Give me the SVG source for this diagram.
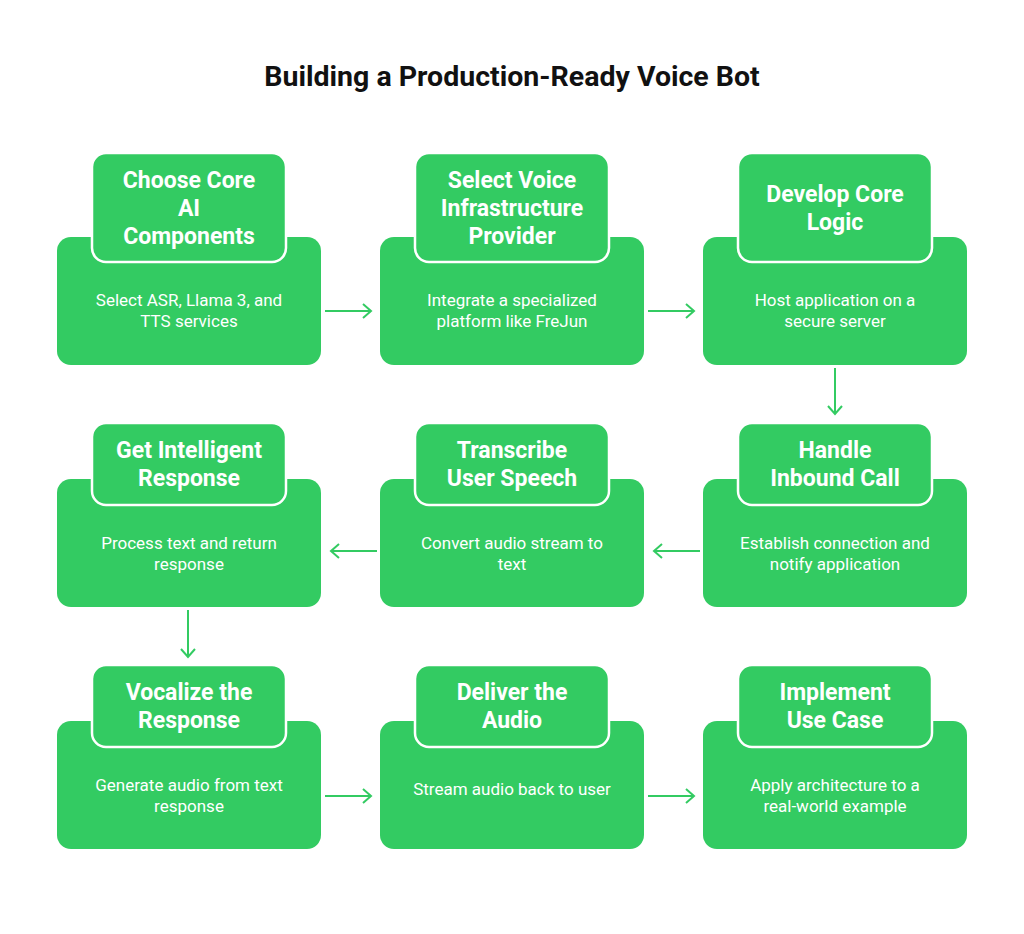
<svg xmlns="http://www.w3.org/2000/svg" width="1024" height="934" viewBox="0 0 1024 934">
<style>
.o{fill:#33cb62}
.h{fill:#33cb62;stroke:#fff;stroke-width:2.5}
.ht{font-family:Roboto,"Liberation Sans",sans-serif;font-weight:bold;font-size:23px;fill:#fff;text-anchor:middle}
.bt{font-family:Roboto,"Liberation Sans",sans-serif;font-size:17px;fill:#fff;text-anchor:middle}
.c{stroke:#33cb62;stroke-width:2;fill:none}
</style>
<rect width="1024" height="934" fill="#fff"/>
<text x="512" y="86" font-family="Roboto,'Liberation Sans',sans-serif" font-weight="bold" font-size="28.5" text-anchor="middle" fill="#111">Building a Production-Ready Voice Bot</text>
<g id="connectors" class="c">
<path d="M325 311H371M363 304L371 311L363 318"/>
<path d="M648 311H694M686 304L694 311L686 318"/>
<path d="M835 368V414M828 406L835 414L842 406"/>
<path d="M700 551H654M662 544L654 551L662 558"/>
<path d="M377 551H331M339 544L331 551L339 558"/>
<path d="M188 610V657M181 649L188 657L195 649"/>
<path d="M325 796H371M363 789L371 796L363 803"/>
<path d="M648 796H694M686 789L694 796L686 803"/>
</g>
<g id="n1"><rect class="o" x="57" y="237" width="264" height="128" rx="14"/><rect class="h" x="92" y="153" width="194" height="109" rx="14"/>
<text class="ht"><tspan x="189" y="188">Choose Core</tspan><tspan x="189" y="216">AI</tspan><tspan x="189" y="244">Components</tspan></text>
<text class="bt"><tspan x="189" y="306">Select ASR, Llama 3, and</tspan><tspan x="189" y="327">TTS services</tspan></text></g>
<g id="n2"><rect class="o" x="380" y="237" width="264" height="128" rx="14"/><rect class="h" x="415" y="153" width="194" height="109" rx="14"/>
<text class="ht"><tspan x="512" y="188">Select Voice</tspan><tspan x="512" y="216">Infrastructure</tspan><tspan x="512" y="244">Provider</tspan></text>
<text class="bt"><tspan x="512" y="306">Integrate a specialized</tspan><tspan x="512" y="327">platform like FreJun</tspan></text></g>
<g id="n3"><rect class="o" x="703" y="237" width="264" height="128" rx="14"/><rect class="h" x="738" y="153" width="194" height="109" rx="14"/>
<text class="ht"><tspan x="835" y="202">Develop Core</tspan><tspan x="835" y="230">Logic</tspan></text>
<text class="bt"><tspan x="835" y="306">Host application on a</tspan><tspan x="835" y="327">secure server</tspan></text></g>
<g id="n4"><rect class="o" x="703" y="479" width="264" height="128" rx="14"/><rect class="h" x="738" y="423" width="194" height="82" rx="14"/>
<text class="ht"><tspan x="835" y="458">Handle</tspan><tspan x="835" y="486">Inbound Call</tspan></text>
<text class="bt"><tspan x="835" y="549">Establish connection and</tspan><tspan x="835" y="570">notify application</tspan></text></g>
<g id="n5"><rect class="o" x="380" y="479" width="264" height="128" rx="14"/><rect class="h" x="415" y="423" width="194" height="82" rx="14"/>
<text class="ht"><tspan x="512" y="458">Transcribe</tspan><tspan x="512" y="486">User Speech</tspan></text>
<text class="bt"><tspan x="512" y="549">Convert audio stream to</tspan><tspan x="512" y="570">text</tspan></text></g>
<g id="n6"><rect class="o" x="57" y="479" width="264" height="128" rx="14"/><rect class="h" x="92" y="423" width="194" height="82" rx="14"/>
<text class="ht"><tspan x="189" y="458">Get Intelligent</tspan><tspan x="189" y="486">Response</tspan></text>
<text class="bt"><tspan x="189" y="549">Process text and return</tspan><tspan x="189" y="570">response</tspan></text></g>
<g id="n7"><rect class="o" x="57" y="721" width="264" height="128" rx="14"/><rect class="h" x="92" y="665" width="194" height="82" rx="14"/>
<text class="ht"><tspan x="189" y="700">Vocalize the</tspan><tspan x="189" y="728">Response</tspan></text>
<text class="bt"><tspan x="189" y="791">Generate audio from text</tspan><tspan x="189" y="812">response</tspan></text></g>
<g id="n8"><rect class="o" x="380" y="721" width="264" height="128" rx="14"/><rect class="h" x="415" y="665" width="194" height="82" rx="14"/>
<text class="ht"><tspan x="512" y="700">Deliver the</tspan><tspan x="512" y="728">Audio</tspan></text>
<text class="bt"><tspan x="512" y="795">Stream audio back to user</tspan></text></g>
<g id="n9"><rect class="o" x="703" y="721" width="264" height="128" rx="14"/><rect class="h" x="738" y="665" width="194" height="82" rx="14"/>
<text class="ht"><tspan x="835" y="700">Implement</tspan><tspan x="835" y="728">Use Case</tspan></text>
<text class="bt"><tspan x="835" y="791">Apply architecture to a</tspan><tspan x="835" y="812">real-world example</tspan></text></g>
</svg>
